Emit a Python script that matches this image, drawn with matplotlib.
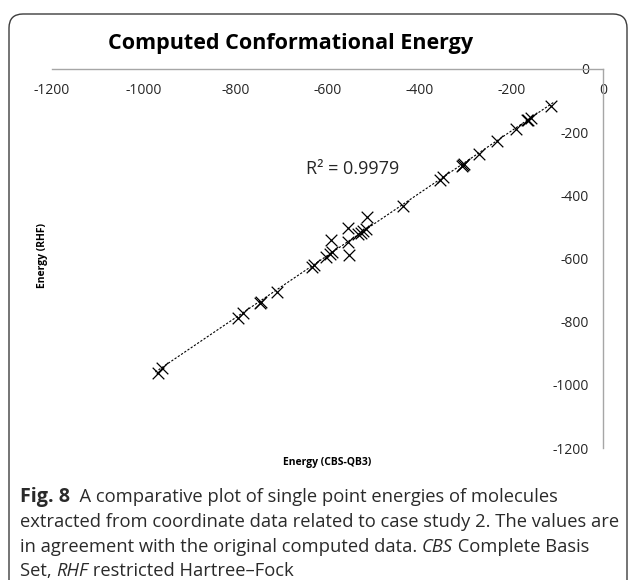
import numpy as np
import matplotlib
matplotlib.use("Agg")
import matplotlib.pyplot as plt
from matplotlib.patches import FancyBboxPatch

plt.rcParams["axes.unicode_minus"] = False

# energies (CBS-QB3 vs RHF)
cbs = [-113, -157, -163, -166, -190, -231, -271, -303, -305, -307, -349, -356,
       -436, -515, -516, -522, -527, -533, -555, -555, -553, -593, -591, -594,
       -604, -630, -634, -711, -744, -747, -785, -796, -960, -970]
rhf = [-117, -154, -160, -163, -190, -229, -270, -301, -304, -306, -343, -353,
       -434, -469, -506, -512, -518, -524, -505, -549, -588, -543, -581, -587,
       -596, -622, -627, -705, -737, -741, -774, -787, -948, -962]
ticks = [-1200, -1000, -800, -600, -400, -200, 0]
r2_text = "R\u00b2 = 0.9979"

W, H = 629, 580
fig = plt.figure(figsize=(W / 100, H / 100), dpi=100)

# plot area in pixels: x -1200..0 -> 52..603, y 0..-1200 -> 69..448
ax = fig.add_axes([52 / W, 1 - 448 / H, (603 - 52) / W, (448 - 69) / H])
ax.set_xlim(-1200, 0)
ax.set_ylim(-1200, 0)
ax.patch.set_visible(False)

for s in ["left", "bottom"]:
    ax.spines[s].set_visible(False)
for s in ["top", "right"]:
    ax.spines[s].set_color("#a6a6a6")
    ax.spines[s].set_linewidth(1.0)

ax.set_xticks(ticks)
ax.set_yticks(ticks)
ax.xaxis.tick_top()
ax.yaxis.tick_right()
tick_font = dict(family="Open Sans", size=10, color="#262626")
ax.tick_params(axis="x", length=0, pad=-21)
ax.tick_params(axis="y", length=0, pad=-10)
for lab in ax.get_xticklabels():
    lab.set(**tick_font)
for lab in ax.get_yticklabels():
    lab.set(**tick_font)
    lab.set_horizontalalignment("right")

x = np.array(cbs)
y = np.array(rhf)
ax.scatter(x, y, marker="x", s=70, c="black", linewidths=0.9, zorder=3)

# linear trend line
k, b = np.polyfit(x, y, 1)
xx = np.array([x.min() - 5, x.max() + 5])
ax.plot(xx, k * xx + b, color="black", lw=0.8, ls=(0, (2, 1.5)), zorder=2)

ax.text(-545, -318, r2_text, ha="center", va="center",
        fontsize=13, family="Open Sans", color="#262626")

fig.text(291 / W, 1 - 43 / H, "Computed Conformational Energy", ha="center",
         va="center", fontsize=15.5, fontweight="bold", family="Open Sans")
fig.text(327 / W, 1 - 462 / H, "Energy (CBS-QB3)", ha="center", va="center",
         fontsize=7.5, fontweight="bold", family="Open Sans")
fig.text(42 / W, 1 - 256 / H, "Energy (RHF)", ha="center", va="center",
         rotation=90, fontsize=7.5, fontweight="bold", family="Open Sans")

# frame around figure + caption
frame = FancyBboxPatch((9 / 100, -0.5), (627 - 9) / 100, (H - 14) / 100 + 0.5,
                       boxstyle="round,pad=0,rounding_size=0.14",
                       transform=fig.dpi_scale_trans, fill=False,
                       edgecolor="#3c3c3c", lw=1.0)
fig.patches.append(frame)

# caption, built from pieces with mixed styles
lines = [
    [("Fig. 8", "bold"), ("  A comparative plot of single point energies of molecules", "normal")],
    [("extracted from coordinate data related to case study 2. The values are", "normal")],
    [("in agreement with the original computed data. ", "normal"), ("CBS", "italic"),
     (" Complete Basis", "normal")],
    [("Set, ", "normal"), ("RHF", "italic"), (" restricted Hartree\u2013Fock", "normal")],
]
line_y = [497, 522, 547, 571]
renderer = fig.canvas.get_renderer()

# size the caption so the second line spans the same width as in the figure
probe = fig.text(0, 0, lines[1][0][0], fontsize=10, family="Open Sans")
cap_size = 10 * 600 / probe.get_window_extent(renderer).width
probe.remove()

for pieces, yy in zip(lines, line_y):
    xpos = 20
    for txt, style in pieces:
        kw = dict(fontsize=cap_size, family="Open Sans", color="#2a2a2a",
                  va="center", ha="left")
        if style == "bold":
            kw["fontweight"] = "bold"
            kw["fontsize"] = cap_size + 1
        if style == "italic":
            kw["style"] = "italic"
        t = fig.text(xpos / W, 1 - yy / H, txt, **kw)
        xpos += t.get_window_extent(renderer).width

fig.savefig("out.png", dpi=100)
